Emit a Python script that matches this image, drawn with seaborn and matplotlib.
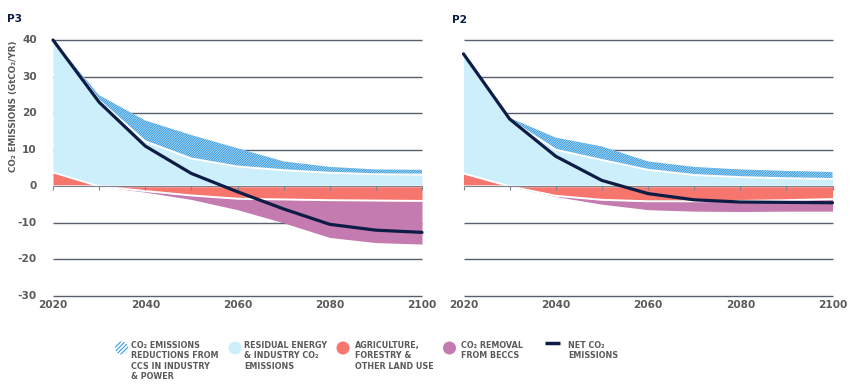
import numpy as np
import pandas as pd
import matplotlib
matplotlib.use("Agg")
import matplotlib.pyplot as plt
from matplotlib.patches import Circle
import seaborn as sns

sns.set_theme(style="white")
plt.rcParams['font.family'] = ['DejaVu Sans']
plt.rcParams['hatch.linewidth'] = 0.8

# ---------------- data ----------------
years = [2020, 2030, 2040, 2050, 2060, 2070, 2080, 2090, 2100]

p3_residual = [36.2, 23.5, 12.3, 7.6, 5.4, 4.4, 3.7, 3.3, 3.2]
p3_ccs      = [0.0, 1.4, 5.7, 6.4, 5.0, 2.4, 1.6, 1.3, 1.3]
p3_afolu    = [3.8, 0.0, -1.3, -2.5, -3.4, -3.6, -3.8, -3.9, -4.0]
p3_beccs    = [0.0, 0.0, 0.3, 1.1, 3.0, 6.4, 10.2, 11.5, 11.8]
p3_net      = [40.0, 23.0, 11.0, 3.5, -1.5, -6.2, -10.4, -12.0, -12.6]

p2_residual = [32.7, 18.2, 10.0, 7.2, 4.5, 3.1, 2.5, 2.2, 2.0]
p2_ccs      = [0.0, 0.5, 3.3, 3.7, 2.3, 2.2, 2.1, 2.0, 1.9]
p2_afolu    = [3.5, 0.0, -2.6, -3.7, -4.1, -4.1, -4.0, -3.8, -3.5]
p2_beccs    = [0.0, 0.0, 0.2, 1.2, 2.3, 2.7, 2.9, 3.0, 3.3]
p2_net      = [36.2, 18.4, 8.2, 1.6, -2.0, -3.7, -4.3, -4.4, -4.5]

panel_titles = ["P3", "P2"]
y_ticks = [40, 30, 20, 10, 0, -10, -20, -30]
x_ticks = [2020, 2040, 2060, 2080, 2100]
legend_labels = [
    "CO\u2082 EMISSIONS\nREDUCTIONS FROM\nCCS IN INDUSTRY\n& POWER",
    "RESIDUAL ENERGY\n& INDUSTRY CO\u2082\nEMISSIONS",
    "AGRICULTURE,\nFORESTRY &\nOTHER LAND USE",
    "CO\u2082 REMOVAL\nFROM BECCS",
    "NET CO\u2082\nEMISSIONS",
]
y_label = "CO\u2082 EMISSIONS (GtCO\u2082/YR)"

# ---------------- styles ----------------
C_LIGHT = "#cdeefb"
C_HATCH = "#3399de"
C_HATCH_BG = "#e4f5fd"
C_RED = "#f6756c"
C_PURPLE = "#c47bb0"
C_NET = "#0c1c44"
C_GRID = "#55606c"
C_TEXT = "#5a5a5a"
HATCH = "/" * 14

W, H = 850, 392
fig = plt.figure(figsize=(8.5, 3.92), dpi=100)

def ax_rect(x2020_px):
    pxyr = 369.0 / 80.0
    left = (x2020_px - pxyr) / W
    width = (369.0 + 2 * pxyr) / W
    pxu = (186.0 - 40.0) / 40.0
    top_px = 40 - pxu
    bot_px = 296 + pxu
    return [left, 1 - bot_px / H, width, (bot_px - top_px) / H]

panels = [
    (p3_residual, p3_ccs, p3_afolu, p3_beccs, p3_net, 53.0),
    (p2_residual, p2_ccs, p2_afolu, p2_beccs, p2_net, 463.5),
]

for i, (res, ccs, afo, bec, net, x0) in enumerate(panels):
    ax = fig.add_axes(ax_rect(x0))
    ax.set_xlim(2019, 2101)
    ax.set_ylim(-31, 41)
    yrs = np.array(years, dtype=float)
    res = np.array(res); ccs = np.array(ccs); afo = np.array(afo); bec = np.array(bec)
    pos = np.maximum(afo, 0)
    neg = np.minimum(afo, 0)
    res_top = pos + res
    # gridlines
    for yt in y_ticks:
        if yt != 0:
            ax.hlines(yt, 2020, 2100, color=C_GRID, lw=1.0, zorder=1, clip_on=False)
    # areas
    ax.fill_between(yrs, pos, res_top, color=C_LIGHT, lw=0, zorder=2)
    ax.fill_between(yrs, res_top, res_top + ccs, facecolor=C_HATCH_BG, hatch=HATCH,
                    edgecolor=C_HATCH, lw=0, zorder=2)
    ax.fill_between(yrs, 0, afo, color=C_RED, lw=0, zorder=2)
    ax.fill_between(yrs, neg, neg - bec, color=C_PURPLE, lw=0, zorder=2)
    # white separators
    ax.plot(yrs, res_top, color="white", lw=1.4, zorder=3)
    ax.plot(yrs, pos, color="white", lw=1.4, zorder=3)
    ax.plot(yrs, neg, color="white", lw=1.4, zorder=3)
    # zero line with decade ticks
    ax.hlines(0, 2020, 2100, color="#7a838d", lw=0.8, zorder=4)
    ax.vlines(years, -1.0, 0, color="#7a838d", lw=0.8, zorder=4)
    # net line
    df = pd.DataFrame({"year": years, "net": net})
    sns.lineplot(data=df, x="year", y="net", ax=ax, color=C_NET, lw=2.3,
                 zorder=5, legend=False)
    ax.set_xlabel(""); ax.set_ylabel("")
    ax.set_xticks([]); ax.set_yticks([])
    for s in ax.spines.values():
        s.set_visible(False)
    ax.patch.set_alpha(0)
    for xt in x_ticks:
        ax.text(xt, -31.0, str(xt), ha="center", va="top", fontsize=7.6,
                fontweight="bold", color=C_TEXT)
    if i == 0:
        for yt in y_ticks:
            ax.text(2016.5, yt, str(yt), ha="right", va="center", fontsize=7.6,
                    fontweight="bold", color=C_TEXT)
        fig.text(7 / W, 1 - 19 / H, panel_titles[0], fontsize=7.6, fontweight="bold",
                 color=C_NET, va="center", ha="left")
        fig.text(14 / W, 1 - 106 / H, y_label, rotation=90, fontsize=6.3,
                 color=C_TEXT, fontweight="semibold", va="center", ha="center")
    else:
        fig.text(452 / W, 1 - 20 / H, panel_titles[1], fontsize=7.6, fontweight="bold",
                 color=C_NET, va="center", ha="left")

# ---------------- legend ----------------
lax = fig.add_axes([0, 0, 1, 62 / H])
lax.set_xlim(0, W)
lax.set_ylim(H, 330)
lax.axis("off")
lax.patch.set_alpha(0)

r = 6.5
lax.add_patch(Circle((121.5, 348), r, facecolor="white", hatch="/" * 8,
                     edgecolor=C_HATCH, lw=0))
lax.add_patch(Circle((235, 348), r, facecolor=C_LIGHT, lw=0))
lax.add_patch(Circle((343, 348), r, facecolor=C_RED, lw=0))
lax.add_patch(Circle((449.5, 348), r, facecolor=C_PURPLE, lw=0))
lax.plot([545, 560], [343, 343], color=C_NET, lw=2.5, solid_capstyle="butt")

text_x = [131, 244, 355, 461, 568]
for tx, lab in zip(text_x, legend_labels):
    lax.text(tx, 341, lab, ha="left", va="top", fontsize=5.8, color=C_TEXT,
             fontweight="bold", linespacing=1.2)

fig.savefig("out.png", dpi=100)
